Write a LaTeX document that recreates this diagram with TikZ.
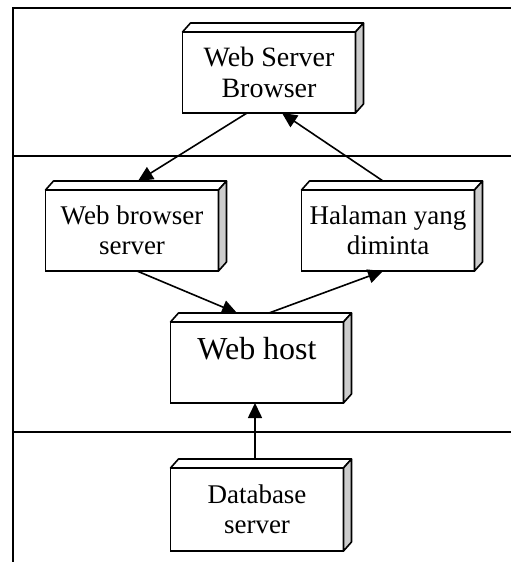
\documentclass[tikz,border=0pt]{standalone}
\usepackage{fontspec}
\setmainfont{Liberation Serif}
\usetikzlibrary{arrows.meta}

\tikzset{
  frameline/.style={line width=1.9pt},
  cube/.style={draw, fill=white, line width=1.8pt, inner sep=0pt, outer sep=0pt,
    align=center, minimum width=173pt, minimum height=81pt},
  face/.style={draw, line width=1.6pt, line join=round},
  link/.style={line width=1.6pt, -{Triangle[length=15pt,width=14pt]}},
}
% top and right faces of a 3D box around a node
\newcommand\cubefaces[1]{%
  \path[face, fill=white] (#1.north west) -- ++(8,-9) -- ([shift={(8,-9)}]#1.north east) -- (#1.north east) -- cycle;
  \path[face, fill=gray!40] (#1.north east) -- ++(8,-9) -- ([shift={(8,-9)}]#1.south east) -- (#1.south east) -- cycle;
}

\begin{document}
\begin{tikzpicture}[x=1pt, y=-1pt]
\useasboundingbox (0,0) rectangle (511,562);

% frame and layer separators
\draw[frameline] (511,8) -- (13,8) -- (13,562);
\draw[frameline] (13,156) -- (511,156);
\draw[frameline] (13,432) -- (511,432);

% boxes
\node[cube, font=\fontsize{28}{31}\selectfont] (top) at (269,72.5) {Web Server\\Browser};
\node[cube, font=\fontsize{27}{30}\selectfont] (wbs) at (132,230.5) {Web browser\\server};
\node[cube, font=\fontsize{27}{30}\selectfont] (hal) at (388,230.5) {Halaman yang\\diminta};
\node[cube, font=\fontsize{32}{36}\selectfont, text height=22pt, text depth=29pt] (host) at (257,362.5) {Web host};
\node[cube, font=\fontsize{27}{30}\selectfont, minimum height=83pt] (db) at (257,509.5) {Database\\server};

\cubefaces{top}
\cubefaces{wbs}
\cubefaces{hal}
\cubefaces{host}
\cubefaces{db}

% connectors
\draw[link] ([xshift=-22]top.south) -- ([shift={(6,-9)}]wbs.north);
\draw[link] ([shift={(-5,-9)}]hal.north) -- ([xshift=13]top.south);
\draw[link] ([xshift=5]wbs.south) -- ([shift={(-20,-9)}]host.north);
\draw[link] ([shift={(12,-9)}]host.north) -- ([xshift=-5]hal.south);
\draw[link] ([shift={(-2,-9)}]db.north) -- ([xshift=-2]host.south);
\end{tikzpicture}
\end{document}
